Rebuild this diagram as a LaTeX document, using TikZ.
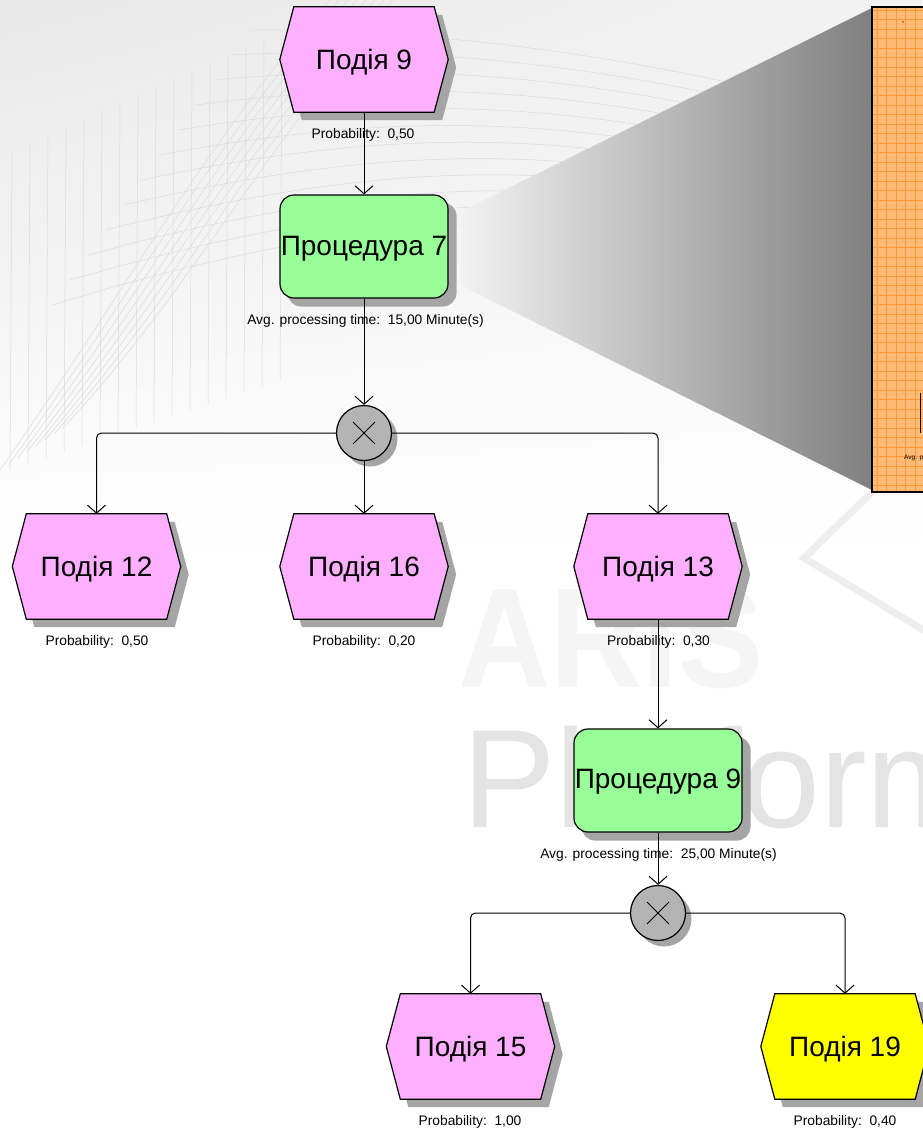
\documentclass[tikz,border=0pt]{standalone}
\usepackage{fontspec}
\setmainfont{Liberation Sans}
\usetikzlibrary{arrows.meta,calc,shadings}
\definecolor{evpink}{RGB}{255,175,255}
\definecolor{fngreen}{RGB}{152,255,152}
\definecolor{evyellow}{RGB}{255,255,0}
\definecolor{gategray}{RGB}{180,180,180}
\definecolor{shadowc}{RGB}{165,165,165}
\definecolor{orfill}{RGB}{255,186,118}
\definecolor{orgrid}{RGB}{255,152,56}
\pgfdeclarelayer{bg}
\pgfdeclarelayer{shapes}
\pgfsetlayers{bg,shapes,main}
\tikzset{
  evbox/.style={rectangle, minimum width=168pt, minimum height=105pt, inner sep=0pt},
  fnbox/.style={rectangle, rounded corners=14pt, minimum width=168pt, minimum height=103pt,
    inner sep=0pt, draw=black, line width=1.2pt, fill=fngreen},
  gate/.style={circle, minimum size=55pt, inner sep=0pt, draw=black, line width=1.2pt, fill=gategray,
    path picture={\draw[line width=0.9pt]
      ([shift={(-11,-11)}]path picture bounding box.center) -- ([shift={(11,11)}]path picture bounding box.center)
      ([shift={(-11,11)}]path picture bounding box.center) -- ([shift={(11,-11)}]path picture bounding box.center);}},
  bigtxt/.style={font=\fontsize{28}{32}\selectfont, anchor=base, inner sep=0pt},
  smalltxt/.style={font=\fontsize{13.8}{16}\selectfont, anchor=base, inner sep=0pt},
  conn/.style={draw=black, line width=1pt, -{Straight Barb[length=8pt,width=18pt]}, rounded corners=5pt},
  swirl/.style={draw=gray!28, line width=0.5pt},
}
\newcommand\hexshape[2]{%
  \begin{pgfonlayer}{shapes}
  \fill[shadowc] ([shift={(8,8)}]#1.west) -- ([shift={(22,8)}]#1.north west) -- ([shift={(-6,8)}]#1.north east)
    -- ([shift={(8,8)}]#1.east) -- ([shift={(-6,8)}]#1.south east) -- ([shift={(22,8)}]#1.south west) -- cycle;
  \filldraw[fill=#2, draw=black, line width=1.2pt, line join=miter] (#1.west) -- ([shift={(14,0)}]#1.north west)
    -- ([shift={(-14,0)}]#1.north east) -- (#1.east) -- ([shift={(-14,0)}]#1.south east)
    -- ([shift={(14,0)}]#1.south west) -- cycle;
  \end{pgfonlayer}}
\newcommand\fnshadow[1]{%
  \begin{pgfonlayer}{shapes}
  \fill[shadowc, rounded corners=14pt] ([shift={(8,8)}]#1.north west) rectangle ([shift={(8,8)}]#1.south east);
  \end{pgfonlayer}}
\newcommand\gateshadow[1]{%
  \begin{pgfonlayer}{shapes}
  \fill[shadowc] ([shift={(6,6)}]#1.center) circle[radius=27.5pt];
  \end{pgfonlayer}}
\begin{document}
\begin{tikzpicture}[x=1pt,y=-1pt]
\useasboundingbox (0,0) rectangle (922,1130);
% ---------------- background ----------------
\begin{pgfonlayer}{bg}
\fill[white] (0,0) rectangle (922,1130);
\shade[upper left=gray!18, upper right=gray!10, lower left=white, lower right=white] (0,0) rectangle (922,560);
\foreach \i in {0,...,15} \draw[swirl] ({12+18*\i},{150-8*\i}) -- ({10+18*\i},{470-6*\i});
\foreach \i in {0,...,7} \draw[swirl] ({0+9*\i},{470-6*\i}) .. controls ({120+9*\i},300) and ({200+9*\i},150) .. ({330+9*\i},0);
\foreach \j in {0,...,11} \draw[swirl] ({250-18*\j},{30+25*\j}) .. controls (450,{30+14*\j}) and (650,{55+14*\j}) .. (922,{130+15*\j});
\node[anchor=base west, inner sep=0pt, font=\fontsize{142}{150}\selectfont\bfseries, text=gray!8, xscale=0.9] (aris) at (458,687) {ARIS};
\node[anchor=base west, inner sep=0pt, font=\fontsize{140}{150}\selectfont, text=gray!21] (plat) at (462,827) {Platform};
\draw[gray!13, line width=7pt, line join=miter] (905,460) -- (804,558) -- (940,640);
\shade[left color=gray!10, right color=gray] (460,212) -- (872,8) -- (872,490) -- (460,285) -- cycle;
\fill[orfill] (872,7) rectangle (930,492);
\begin{scope}
\clip (872,7) rectangle (930,492);
\foreach \k in {0,...,51} \draw[orgrid, line width=0.9pt] (872,{10+9.5*\k}) -- (930,{10+9.5*\k});
\foreach \k in {0,...,6} \draw[orgrid, line width=0.9pt] ({877+9.5*\k},7) -- ({877+9.5*\k},492);
\end{scope}
\draw[black, line width=2pt] (872,7) rectangle (930,492);
\fill[gray!60!black] (903,22) circle[radius=0.8pt];
\draw[black, line width=1.6pt] (920.5,393) -- (920.5,433);
\node[anchor=base west, inner sep=0pt, font=\fontsize{6.5}{7}\selectfont] (zoomtxt) at (904,459) {Avg. processing time};
\end{pgfonlayer}
% ---------------- nodes ----------------
\node[evbox] (e9) at (364,59.5) {};
\hexshape{e9}{evpink}
\node[bigtxt] (t9) at ([shift={(0,10)}]e9.center) {Подія 9};
\node[smalltxt] (l9) at (363,138) {Probability:\ \ 0,50};

\node[fnbox] (p7) at (364,246.5) {};
\fnshadow{p7}
\node[bigtxt] (tp7) at ([shift={(0,8.5)}]p7.center) {Процедура 7};
\node[smalltxt] (lp7) at (365.5,324) {Avg. processing time:\ \ 15,00 Minute(s)};

\node[gate] (x1) at (364,433) {};
\gateshadow{x1}

\node[evbox] (e12) at (96.5,566.5) {};
\hexshape{e12}{evpink}
\node[bigtxt] (t12) at ([shift={(0,10)}]e12.center) {Подія 12};
\node[smalltxt] (l12) at (97,645) {Probability:\ \ 0,50};

\node[evbox] (e16) at (364,566.5) {};
\hexshape{e16}{evpink}
\node[bigtxt] (t16) at ([shift={(0,10)}]e16.center) {Подія 16};
\node[smalltxt] (l16) at (364,645) {Probability:\ \ 0,20};

\node[evbox] (e13) at (658,566.5) {};
\hexshape{e13}{evpink}
\node[bigtxt] (t13) at ([shift={(0,10)}]e13.center) {Подія 13};
\node[smalltxt] (l13) at (658.5,645) {Probability:\ \ 0,30};

\node[fnbox] (p9) at (658,780.5) {};
\fnshadow{p9}
\node[bigtxt] (tp9) at ([shift={(0,8)}]p9.center) {Процедура 9};
\node[smalltxt] (lp9) at (658.5,858) {Avg. processing time:\ \ 25,00 Minute(s)};

\node[gate] (x2) at (658,913) {};
\gateshadow{x2}

\node[evbox] (e15) at (470.5,1046.5) {};
\hexshape{e15}{evpink}
\node[bigtxt] (t15) at ([shift={(0,9.5)}]e15.center) {Подія 15};
\node[smalltxt] (l15) at (470,1125) {Probability:\ \ 1,00};

\node[evbox] (e19) at (845,1046.5) {};
\hexshape{e19}{evyellow}
\node[bigtxt] (t19) at ([shift={(0,9.5)}]e19.center) {Подія 19};
\node[smalltxt] (l19) at (845,1125) {Probability:\ \ 0,40};

% ---------------- connectors ----------------
\draw[conn] (e9.south) -- (p7.north);
\draw[conn] (p7.south) -- (x1.north);
\draw[conn] (x1.west) -| (e12.north);
\draw[conn] (x1.south) -- (e16.north);
\draw[conn] (x1.east) -| (e13.north);
\draw[conn] (e13.south) -- (p9.north);
\draw[conn] (p9.south) -- (x2.north);
\draw[conn] (x2.west) -| (e15.north);
\draw[conn] (x2.east) -| (e19.north);
\end{tikzpicture}
\end{document}
